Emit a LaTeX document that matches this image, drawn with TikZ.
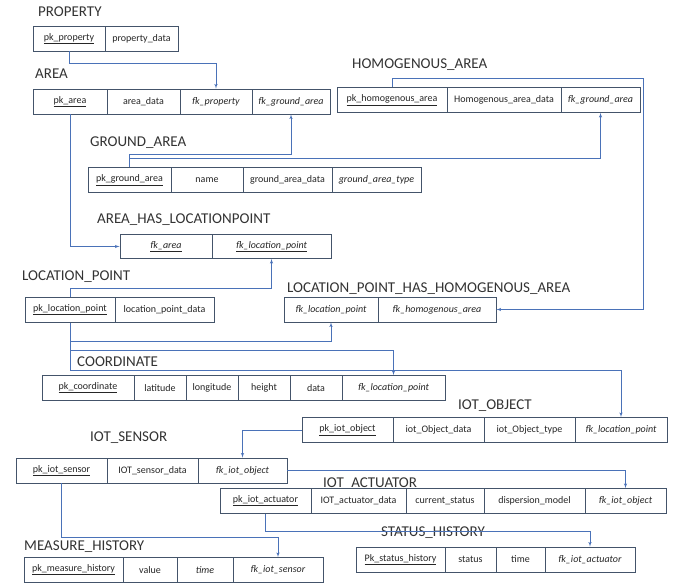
\documentclass[tikz,border=0pt]{standalone}
\usepackage{fontspec}
\setmainfont{Carlito}
\usepackage{xcolor}
\usepackage{tikz}
\usetikzlibrary{shapes,arrows}
\definecolor{tabborder}{HTML}{44546A}
\definecolor{linkblue}{HTML}{4A72B8}
\definecolor{titlegray}{HTML}{333333}
\tikzstyle{cell} = [rectangle, draw=tabborder, line width=0.8pt, fill=white, text centered, minimum height=25pt, inner sep=1pt, font=\fontsize{10}{11}\selectfont, text=black!85]
\tikzstyle{title} = [anchor=west, inner sep=0pt, font=\fontsize{15}{17}\selectfont, text=titlegray]
\tikzstyle{line} = [draw=linkblue, line width=0.6pt, -latex']

\begin{document}
\begin{tikzpicture}[x=1pt,y=-1pt]
\useasboundingbox (0,0) rectangle (675,585);

% PROPERTY
\node [title] (tprop) at (38,12) {PROPERTY};
\node [cell, minimum width=72pt] (prop1) at (69,38.5) {\underline{pk\_property}};
\node [cell, minimum width=73pt] (prop2) at (141.5,38.5) {property\_data};

% AREA
\node [title] (tarea) at (35,74) {AREA};
\node [cell, minimum width=74pt] (area1) at (70,101.5) {\underline{pk\_area}};
\node [cell, minimum width=73pt] (area2) at (143.5,101.5) {area\_data};
\node [cell, minimum width=72pt] (area3) at (216,101.5) {\textit{fk\_property}};
\node [cell, minimum width=78pt] (area4) at (291,101.5) {\textit{fk\_ground\_area}};

% HOMOGENOUS_AREA
\node [title] (thomo) at (352,65) {HOMOGENOUS\_AREA};
\node [cell, minimum width=110pt] (homo1) at (392,100) {\underline{pk\_homogenous\_area}};
\node [cell, minimum width=114pt] (homo2) at (504,100) {Homogenous\_area\_data};
\node [cell, minimum width=79pt] (homo3) at (600.5,100) {\textit{fk\_ground\_area}};

% GROUND_AREA
\node [title] (tground) at (90,143) {GROUND\_AREA};
\node [cell, minimum width=83pt] (ground1) at (129.5,180) {\underline{pk\_ground\_area}};
\node [cell, minimum width=72pt] (ground2) at (207,180) {name};
\node [cell, minimum width=89pt] (ground3) at (287.5,180) {ground\_area\_data};
\node [cell, minimum width=89pt] (ground4) at (376.5,180) {\textit{ground\_area\_type}};

% AREA_HAS_LOCATIONPOINT
\node [title] (tahl) at (97,220) {AREA\_HAS\_LOCATIONPOINT};
\node [cell, minimum width=92pt, minimum height=24pt] (ahl1) at (166,246.5) {\underline{\textit{fk\_area}}};
\node [cell, minimum width=119pt, minimum height=24pt] (ahl2) at (271.5,246.5) {\underline{\textit{fk\_location\_point}}};

% LOCATION_POINT
\node [title] (tloc) at (22,277) {LOCATION\_POINT};
\node [cell, minimum width=90pt] (loc1) at (70,310) {\underline{pk\_location\_point}};
\node [cell, minimum width=99pt] (loc2) at (164.5,310) {location\_point\_data};

% LOCATION_POINT_HAS_HOMOGENOUS_AREA
\node [title] (tlph) at (287,289) {LOCATION\_POINT\_HAS\_HOMOGENOUS\_AREA};
\node [cell, minimum width=94pt] (lph1) at (331,309.5) {\textit{fk\_location\_point}};
\node [cell, minimum width=118pt] (lph2) at (437,309.5) {\textit{fk\_homogenous\_area}};

% COORDINATE
\node [title] (tcoord) at (77,362) {COORDINATE};
\node [cell, minimum width=92pt] (coord1) at (88,388) {\underline{pk\_coordinate}};
\node [cell, minimum width=52pt] (coord2) at (160,388) {latitude};
\node [cell, minimum width=52pt] (coord3) at (212,388) {longitude};
\node [cell, minimum width=52pt] (coord4) at (264,388) {height};
\node [cell, minimum width=52pt] (coord5) at (316,388) {data};
\node [cell, minimum width=103pt] (coord6) at (393.5,388) {\textit{fk\_location\_point}};

% IOT_OBJECT
\node [title] (tobj) at (458,406) {IOT\_OBJECT};
\node [cell, minimum width=91pt] (obj1) at (347.5,430) {\underline{pk\_iot\_object}};
\node [cell, minimum width=91pt] (obj2) at (438.5,430) {iot\_Object\_data};
\node [cell, minimum width=91pt] (obj3) at (529.5,430) {iot\_Object\_type};
\node [cell, minimum width=92pt] (obj4) at (621,430) {\textit{fk\_location\_point}};

% IOT_SENSOR
\node [title] (tsen) at (90,438) {IOT\_SENSOR};
\node [cell, minimum width=91pt] (sen1) at (61.5,470.5) {\underline{pk\_iot\_sensor}};
\node [cell, minimum width=91pt] (sen2) at (152.5,470.5) {IOT\_sensor\_data};
\node [cell, minimum width=89pt] (sen3) at (242.5,470.5) {\textit{fk\_iot\_object}};

% IOT_ACTUATOR
\node [title] (tact) at (323,484) {IOT\_ACTUATOR};
\node [cell, minimum width=91pt] (act1) at (265.5,501) {\underline{pk\_iot\_actuator}};
\node [cell, minimum width=95pt] (act2) at (358.5,501) {IOT\_actuator\_data};
\node [cell, minimum width=78pt] (act3) at (445,501) {current\_status};
\node [cell, minimum width=101pt] (act4) at (534.5,501) {dispersion\_model};
\node [cell, minimum width=81pt] (act5) at (625.5,501) {\textit{fk\_iot\_object}};

% MEASURE_HISTORY
\node [title] (tmeas) at (24,547) {MEASURE\_HISTORY};
\node [cell, minimum width=99pt] (meas1) at (73.5,570) {\underline{pk\_measure\_history}};
\node [cell, minimum width=54pt] (meas2) at (150,570) {value};
\node [cell, minimum width=56pt] (meas3) at (205,570) {\textit{time}};
\node [cell, minimum width=90pt] (meas4) at (278,570) {\textit{fk\_iot\_sensor}};

% STATUS_HISTORY
\node [title] (tstat) at (381,533) {STATUS\_HISTORY};
\node [cell, minimum width=89pt] (stat1) at (400.5,559.5) {\underline{Pk\_status\_history}};
\node [cell, minimum width=51pt] (stat2) at (470.5,559.5) {status};
\node [cell, minimum width=49pt] (stat3) at (520.5,559.5) {time};
\node [cell, minimum width=90pt] (stat4) at (590,559.5) {\textit{fk\_iot\_actuator}};

% foreign keys
\coordinate (homoR) at (643,0);
\path [line] (prop1.south) -- ++(0,12) -| (area3.north);
\path [line] (ground1.north) -- ++(0,-13) -| (area4.south);
\path [line] (ground1.north) -- ++(0,-9) -| (homo3.south);
\path [line] (homo1.north) -- ++(0,-9) -| (homoR |- lph2.east) -- (lph2.east);
\path [line] (area1.south) |- (ahl1.west);
\path [line] (loc1.north) -- ++(0,-9) -| (ahl2.south);
\path [line] (loc1.south) -- ++(0,18) -| (lph1.south);
\path [line] (loc1.south) -- ++(0,27) -| (coord6.north);
\path [line] (loc1.south) -- ++(0,47) -| (obj4.north);
\path [line] (obj1.west) -| (sen3.north);
\path [line] (sen3.east) -| (act5.north);
\path [line] (sen1.south) -- ++(0,54) -| (meas4.north);
\path [line] (act1.south) -- ++(0,17) -| (stat4.north);
\end{tikzpicture}
\end{document}
